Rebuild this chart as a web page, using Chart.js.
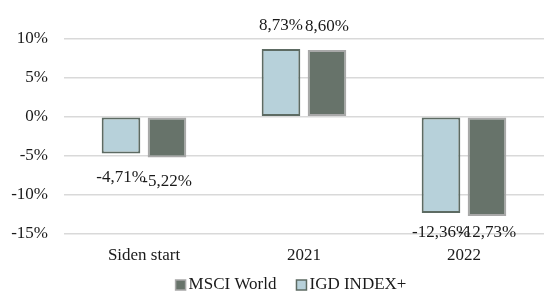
<!DOCTYPE html>
<html><head><meta charset="utf-8">
<script src="https://cdn.jsdelivr.net/npm/chart.js@4/dist/chart.umd.min.js"></script>
<style>html,body{margin:0;padding:0;background:#fff}#w{width:544px;height:291px}</style>
</head><body><div id="w"><canvas id="c" width="544" height="291"></canvas></div>
<script>
const categories = ['Siden start', '2021', '2022'];
const igdValues = [-4.71, 8.73, -12.36];
const msciValues = [-5.22, 8.60, -12.73];
const seriesNames = ['IGD INDEX+', 'MSCI World'];
const yTicks = [-15, -10, -5, 0, 5, 10];

const FONT = "'Liberation Serif', 'DejaVu Serif', serif";
const FS = 17;
const TXT = '#1a1a1a';
const fmt = v => v.toFixed(2).replace('.', ',') + '%';

const labelPlugin = {
  id: 'valLabels',
  afterDatasetsDraw(chart) {
    const ctx = chart.ctx;
    ctx.save();
    ctx.font = FS + 'px ' + FONT;
    ctx.fillStyle = TXT;
    ctx.textAlign = 'center';
    ctx.textBaseline = 'middle';
    chart.data.datasets.forEach((ds, i) => {
      const meta = chart.getDatasetMeta(i);
      meta.data.forEach((bar, j) => {
        const v = ds.data[j];
        const y = v >= 0 ? bar.y - 23 : Math.min(bar.y + 24, chart.chartArea.bottom - 1);
        ctx.fillText(fmt(v), bar.x, y);
      });
    });
    ctx.restore();
  }
};

const legendPlugin = {
  id: 'customLegend',
  afterDraw(chart) {
    const ctx = chart.ctx;
    ctx.save();
    ctx.font = FS + 'px ' + FONT;
    ctx.textBaseline = 'middle';
    const items = chart.data.datasets.slice().reverse();
    const box = 10, gap = 3, itemGap = 20;
    const widths = items.map(d => box + gap + ctx.measureText(d.label).width);
    const total = widths.reduce((a, b) => a + b, 0) + itemGap * (items.length - 1);
    const cx = (chart.width / 2 + (chart.chartArea.left + chart.chartArea.right) / 2) / 2 + 3;
    let x = cx - total / 2;
    const y = chart.height - 6;
    items.forEach((d, i) => {
      ctx.fillStyle = d.backgroundColor;
      ctx.fillRect(x, y - box / 2, box, box);
      ctx.strokeStyle = d.borderColor;
      ctx.lineWidth = 1.5;
      ctx.strokeRect(x, y - box / 2, box, box);
      ctx.fillStyle = TXT;
      ctx.fillText(d.label, x + box + gap, y);
      x += widths[i] + itemGap;
    });
    ctx.restore();
  }
};

new Chart(document.getElementById('c'), {
  type: 'bar',
  data: {
    labels: categories,
    datasets: [
      { label: seriesNames[0], data: igdValues, backgroundColor: '#b7d1da', borderColor: '#5d6b63', borderWidth: 2, borderSkipped: false },
      { label: seriesNames[1], data: msciValues, backgroundColor: '#67736a', borderColor: '#a8a8a8', borderWidth: 2, borderSkipped: false }
    ]
  },
  options: {
    responsive: false,
    animation: false,
    layout: { padding: { top: 39, right: 0, left: 0, bottom: 21 } },
    datasets: { bar: { categoryPercentage: 0.575, barPercentage: 0.84 } },
    plugins: {
      legend: { display: false },
      tooltip: { enabled: false }
    },
    scales: {
      x: {
        grid: { display: false },
        border: { display: false },
        ticks: { font: { family: FONT, size: FS }, color: TXT, padding: 4, maxRotation: 0 }
      },
      y: {
        min: -15, max: 10,
        afterBuildTicks: s => { s.ticks = yTicks.map(v => ({ value: v })); },
        afterFit: s => { s.width = 64; },
        grid: { color: '#d9d9d9', lineWidth: 1.5, drawTicks: false },
        border: { display: false },
        ticks: { font: { family: FONT, size: FS }, color: TXT, padding: 16, callback: v => v + '%' }
      }
    }
  },
  plugins: [labelPlugin, legendPlugin]
});
</script></body></html>
